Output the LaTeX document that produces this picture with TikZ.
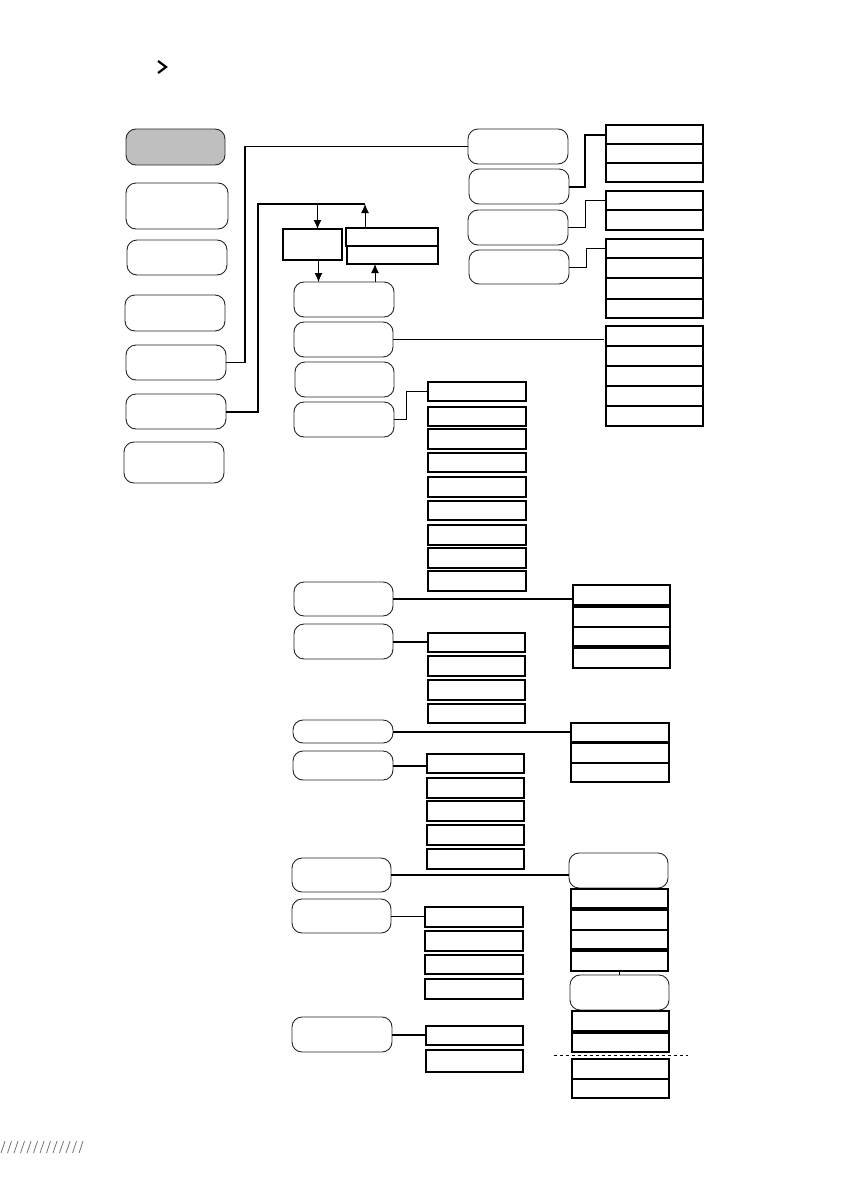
\documentclass[tikz,border=0pt]{standalone}
\usetikzlibrary{arrows.meta}
\tikzset{
  rbox/.style={draw=black!85, line width=0.9pt, rounded corners=10pt, inner sep=0pt, outer sep=0pt},
  graybox/.style={rbox, fill=black!25},
  sbox/.style={draw=black, line width=1.1pt, inner sep=0pt, outer sep=0pt},
  thinline/.style={draw=black, line width=0.9pt},
  thickline/.style={draw=black, line width=2pt},
  midline/.style={draw=black, line width=1.3pt},
  arr/.style={draw=black, line width=0.9pt, -{Latex[length=9pt,width=8pt]}},
  sep/.style={draw=black, line width=2pt},
}
\newcommand\mkbox[6]{\node[#1, minimum width={#5-#3}, minimum height={#6-#4}, anchor=north west] (#2) at (#3,#4) {};}
\begin{document}
\begin{tikzpicture}[x=1pt,y=-1pt]
\useasboundingbox (0,0) rectangle (842,1191);

% chevron
\draw[line width=2.2pt, miter limit=10] (158,61) -- (166,67) -- (158,73);
% slashes bottom left
\foreach \i in {0,...,12} {\draw[black!55, line width=0.8pt] ({1+6.5*\i},1153) -- ({5+6.5*\i},1141);}

% left column
\mkbox{graybox}{L1}{126}{129}{225}{165}
\mkbox{rbox}{L2}{126}{183}{228}{229}
\mkbox{rbox}{L3}{127}{240}{227}{275}
\mkbox{rbox}{L4}{125}{295}{225}{331}
\mkbox{rbox}{L5}{126}{345}{226}{380}
\mkbox{rbox}{L6}{126}{394}{226}{429}
\mkbox{rbox}{L7}{124}{442}{224}{483}

% upper right rounded boxes
\mkbox{rbox}{R1}{468}{129}{568}{164}
\mkbox{rbox}{R2}{469}{169}{569}{204}
\mkbox{rbox}{R3}{468}{210}{568}{245}
\mkbox{rbox}{R4}{469}{250}{569}{284}

% small boxes A and B
\mkbox{sbox}{A}{283}{229}{342}{260}
\mkbox{sbox}{B1}{346}{228}{438}{246}
\mkbox{sbox}{B2}{347}{246}{438}{264}

% middle column rounded boxes
\mkbox{rbox}{M1}{294}{282}{394}{317}
\mkbox{rbox}{M2}{294}{322}{393}{357}
\mkbox{rbox}{M3}{295}{362}{394}{397}
\mkbox{rbox}{M4}{294}{402}{394}{437}
\mkbox{rbox}{M5}{294}{582}{393}{616}
\mkbox{rbox}{M6}{294}{624}{393}{659}
\mkbox{rbox}{M7}{293}{720}{393}{743}
\mkbox{rbox}{M8}{293}{751}{393}{780}
\mkbox{rbox}{M9}{292}{858}{391}{892}
\mkbox{rbox}{M10}{292}{899}{391}{933}
\mkbox{rbox}{M11}{292}{1017}{392}{1052}

% right lists
\foreach \a/\b [count=\i] in {125/144,144/163,163/182} {\mkbox{sbox}{G1-\i}{606}{\a}{703}{\b}}
\foreach \a/\b [count=\i] in {191/210,210/230} {\mkbox{sbox}{G2-\i}{606}{\a}{703}{\b}}
\foreach \a/\b [count=\i] in {239/258,258/278,278/299,299/318} {\mkbox{sbox}{G3-\i}{606}{\a}{703}{\b}}
\foreach \a/\b [count=\i] in {326/346,346/366,366/386,386/406,406/426} {\mkbox{sbox}{G4-\i}{606}{\a}{703}{\b}}
\foreach \a/\b [count=\i] in {382/401,407/426,429/449,453/472,477/497,501/520,525/545,548/568,571/591} {\mkbox{sbox}{C1-\i}{428}{\a}{526}{\b}}
\foreach \a/\b [count=\i] in {585/605,607/627,627/646,648/668} {\mkbox{sbox}{G5-\i}{573}{\a}{670}{\b}}
\foreach \a/\b [count=\i] in {633/652,656/676,680/700,704/723} {\mkbox{sbox}{D1-\i}{428}{\a}{525}{\b}}
\foreach \a/\b [count=\i] in {723/742,743/763,763/782} {\mkbox{sbox}{G6-\i}{571}{\a}{669}{\b}}
\foreach \a/\b [count=\i] in {754/773,778/798,801/821,825/845,849/869} {\mkbox{sbox}{E1-\i}{427}{\a}{524}{\b}}
\mkbox{rbox}{RR1}{569}{853}{668}{888}
\foreach \a/\b [count=\i] in {889/908,910/930,930/949,951/971} {\mkbox{sbox}{G7-\i}{571}{\a}{668}{\b}}
\mkbox{rbox}{RR2}{570}{975}{669}{1010}
\foreach \a/\b [count=\i] in {1011/1031,1033/1052,1059/1079,1079/1098} {\mkbox{sbox}{G8-\i}{572}{\a}{669}{\b}}
\foreach \a/\b [count=\i] in {907/927,931/951,955/974,979/999} {\mkbox{sbox}{F1-\i}{425}{\a}{523}{\b}}
\foreach \a/\b [count=\i] in {1026/1045,1050/1072} {\mkbox{sbox}{H1-\i}{426}{\a}{523}{\b}}

% emphasised separators
\draw[sep] (G3-3.south west) -- (G3-3.south east);
\draw[sep] (G4-3.south west) -- (G4-3.south east);
\draw[sep] (G4-4.south west) -- (G4-4.south east);
\draw[sep] (G8-3.south west) -- (G8-3.south east);

% connectors
\draw[midline] (L5.east) -- ++(19,0) |- (R1.west);
\coordinate (top) at (365,204);
\draw[thickline] (L6.east) -- ++(32,0) |- (top);
\draw[arr] ([xshift=5pt]A.north |- top) -- ([xshift=5pt]A.north);
\draw[arr] (B1.north -| top) -- (top);
\draw[arr] ([xshift=6pt]A.south) -- ([xshift=6pt]A.south |- M1.north);
\draw[arr] ([xshift=31pt]M1.north) -- ([xshift=31pt]M1.north |- B2.south);

\draw[thickline] (R2.east) -- ++(16,0) |- (G1-1.west);
\draw[thinline] (R3.east) -- ++(17,0) |- (G2-1.west);
\draw[thinline] (R4.east) -- ++(17,0) |- (G3-1.west);
\draw[thinline] (M2.east) -- ([xshift=-2pt]M2.east -| G4-1.west);
\draw[thinline] (M4.east) -- ++(12,0) |- (C1-1.west);
\draw[thickline] (M5.east) -- ([xshift=-1pt]M5.east -| G5-1.west);
\draw[thickline] (M6.east) -- (M6.east -| D1-1.west);
\draw[thickline] (M7.east) -- (M7.east -| G6-1.west);
\draw[thickline] (M8.east) -- (M8.east -| E1-1.west);
\draw[thickline] (M9.east) -- (M9.east -| RR1.west);
\draw[thinline] (M10.east) -- (M10.east -| F1-1.west);
\draw[thickline] (M11.east) -- (M11.east -| H1-1.west);
\draw[thinline] (G7-4.south) -- (RR2.north);

% dashed divider
\draw[black, line width=0.8pt, dashed] (554,1055) -- (688,1055);
\end{tikzpicture}
\end{document}
